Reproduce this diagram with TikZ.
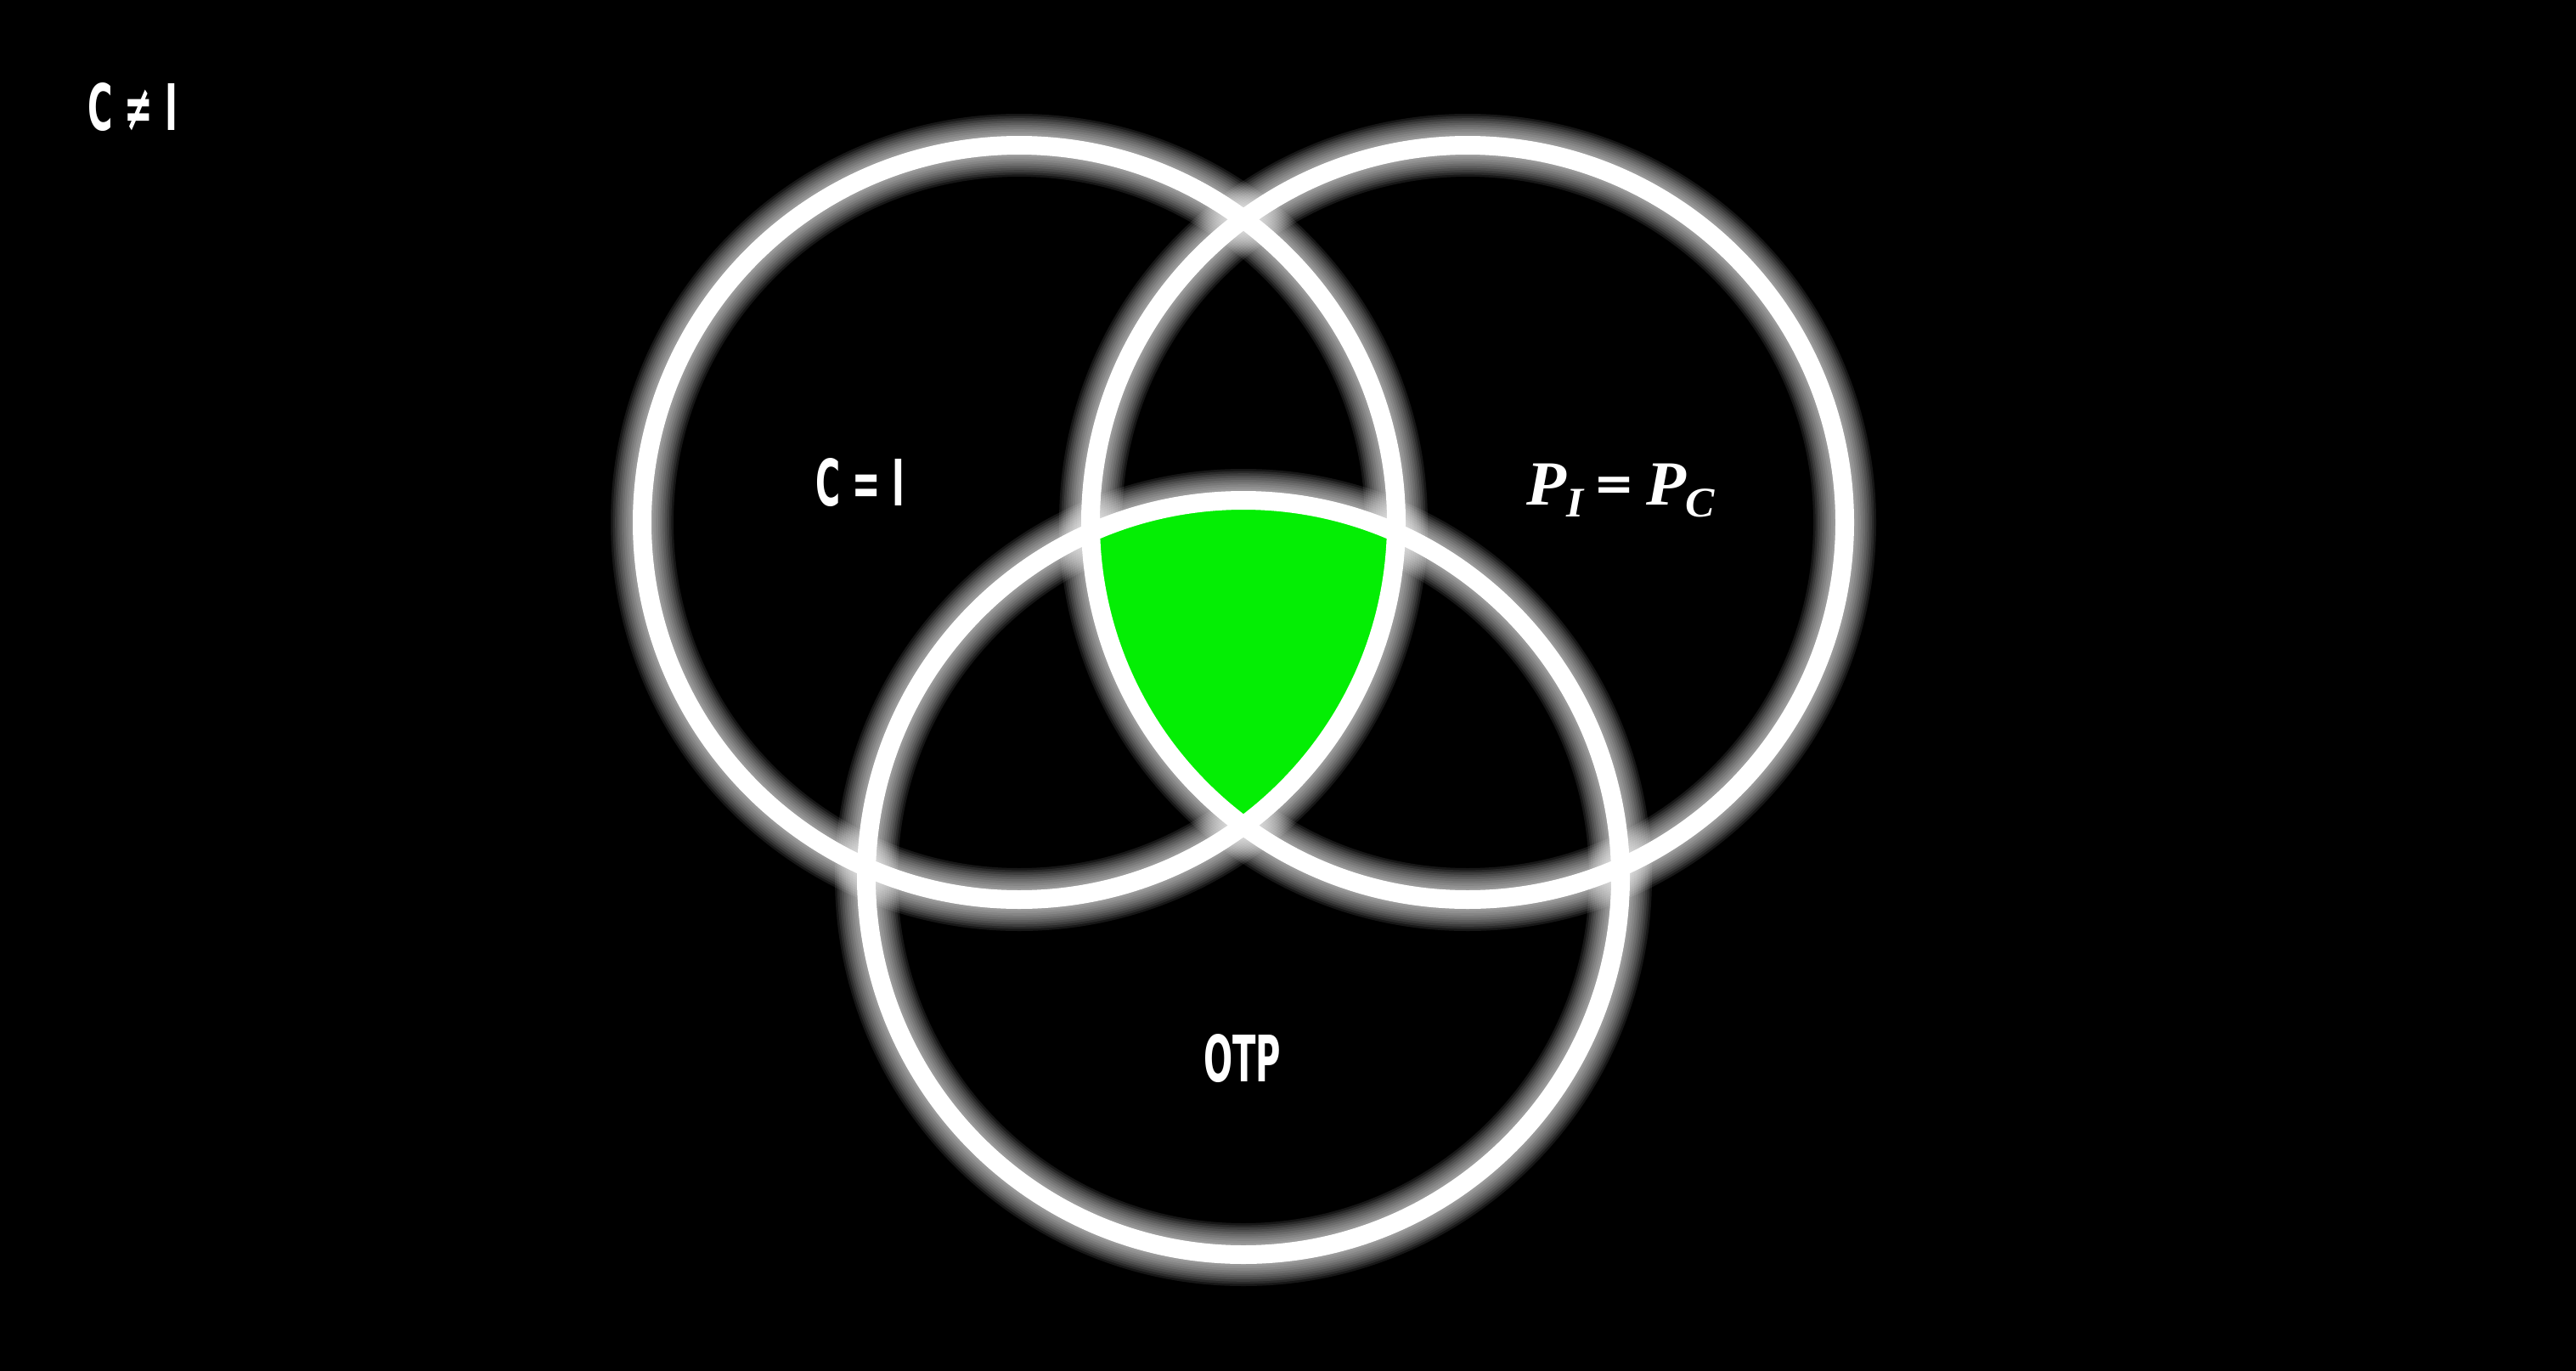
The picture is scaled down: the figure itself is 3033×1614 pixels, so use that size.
\documentclass[tikz,border=0pt]{standalone}
\usepackage{fontspec}
\setmainfont{DejaVu Sans}
\newfontfamily\lsi{Liberation Serif}
\usepackage{graphicx}
\definecolor{vgreen}{RGB}{4,238,4}
\tikzset{
  glowring/.style={draw=white, opacity=0.09, line width=#1},
  ring/.style={draw=white, line width=22pt},
  lbl/.style={inner sep=0pt, anchor=north west, text=white, font=\bfseries}
}
\begin{document}
\begin{tikzpicture}[x=1pt,y=-1pt]
\fill[black] (0,0) rectangle (3033,1614);
\useasboundingbox (0,0) rectangle (3033,1614);
\coordinate (cL) at (1200,615);
\coordinate (cR) at (1728,615);
\coordinate (cB) at (1464,1033);
% glow
\foreach \c in {cL,cR,cB}{
  \foreach \d in {2.6,5.2,...,26}{
    \draw[glowring={22pt+2*\d pt}] (\c) circle[radius=444pt];
  }
}
% green triple intersection
\begin{scope}
  \clip (cL) circle[radius=444pt];
  \clip (cR) circle[radius=444pt];
  \fill[vgreen] (cB) circle[radius=444pt];
\end{scope}
% rings
\foreach \c in {cL,cR,cB}{
  \draw[ring] (\c) circle[radius=444pt];
}
% labels
\node[lbl] (ne) at (103,97) {\resizebox{106pt}{56pt}{C ≠ I}};
\node[lbl] (eq) at (960,539) {\resizebox{105pt}{56pt}{C = I}};
\node[lbl] (otp) at (1417,1217) {\resizebox{91pt}{56pt}{OTP}};
\node[lbl] (pp) at (1797,546) {\resizebox*{222pt}{63pt}{{\lsi\itshape P\raisebox{-0.19em}{\scalebox{0.67}{I}}}\,\raisebox{0.08em}{\scalebox{0.75}{\bfseries =}}\,{\lsi\itshape P\raisebox{-0.19em}{\scalebox{0.67}{C}}}}};
\end{tikzpicture}
\end{document}
